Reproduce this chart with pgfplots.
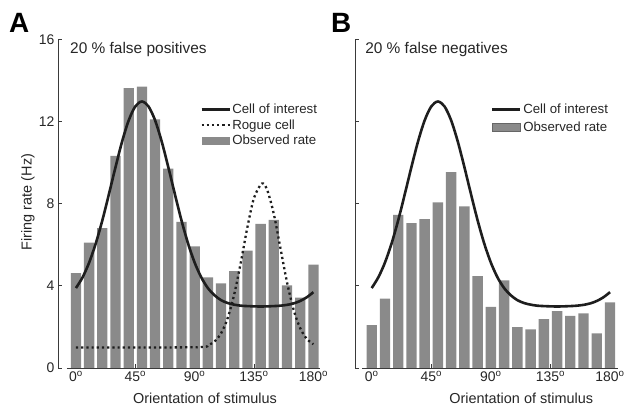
\documentclass[border=0pt]{standalone}
\usepackage{pgfplots}
\pgfplotsset{compat=1.18}
\usepackage{fontspec}
\setmainfont{Liberation Sans}
\definecolor{bargray}{HTML}{8A8A8A}
\definecolor{ink}{HTML}{1E1E1E}
\definecolor{axisgray}{HTML}{3A3A3A}

\pgfplotstableread{
deg rate
0 4.63
10 6.12
20 6.82
30 10.35
40 13.65
50 13.73
60 12.13
70 9.73
80 7.13
90 5.93
100 4.42
110 4.13
120 4.73
130 5.73
140 7.03
150 7.23
160 4.03
170 3.43
180 5.04
}\barsA

\pgfplotstableread{
deg rate
0 2.09
10 3.38
20 7.47
30 7.07
40 7.26
50 8.08
60 9.55
70 7.88
80 4.48
90 2.98
100 4.28
110 1.99
120 1.89
130 2.39
140 2.78
150 2.54
160 2.67
170 1.69
180 3.20
}\barsB

\pgfplotstableread{
deg rate
0 3.90
5 4.42
10 5.14
15 6.07
20 7.20
25 8.48
30 9.80
35 11.05
40 12.08
45 12.76
50 13.00
55 12.76
60 12.08
65 11.05
70 9.80
75 8.48
80 7.20
85 6.07
90 5.14
95 4.42
100 3.90
105 3.55
110 3.31
115 3.17
120 3.09
125 3.04
130 3.02
140 3.00
150 3.02
155 3.04
160 3.08
165 3.15
170 3.27
175 3.45
180 3.70
}\cell

\pgfplotstableread{
deg rate
0 1.00
50 1.00
95 1.02
100 1.11
105 1.29
110 1.69
115 2.43
120 3.60
125 5.16
130 6.88
135 8.30
141 9.00
145 8.68
150 7.51
155 5.85
160 4.18
165 2.84
170 1.94
175 1.42
180 1.16
}\rogue

\pgfplotsset{
  panel/.style={
    scale only axis, height=328bp,
    ymin=0, ymax=16,
    axis x line*=bottom, axis y line*=left,
    axis line style={draw=none},
    tick align=inside,
    ytick={0,4,8,12,16},
    xtick={0,45,90,135,180},
    xticklabels={0\textsuperscript{o},45\textsuperscript{o},90\textsuperscript{o},135\textsuperscript{o},180\textsuperscript{o}},
    major tick length=4bp,
    tick style={axisgray, line width=1bp},
    ticklabel style={font=\fontsize{14}{16}\selectfont, text=black!85},
    /pgf/number format/assume math mode=true,
    xlabel={Orientation of stimulus},
    label style={font=\fontsize{14.5}{17}\selectfont, text=black!85},
    clip=false,
    reverse legend,
    legend cell align=left,
    legend style={draw=none, fill=none, inner sep=0pt, row sep=1.5bp,
      font=\fontsize{13.3}{15}\selectfont, anchor=north west,
      nodes={inner sep=1.5bp, text=black!85}},
  },
  lineleg/.style={legend image code/.code={\draw[##1] (0bp,0bp) -- (28bp,0bp);}},
}

\begin{document}
\begin{tikzpicture}
\useasboundingbox (0,0) rectangle (633bp,409bp);

\begin{axis}[panel, at={(58bp,41bp)}, anchor=south west, width=262bp,
  xmin=-13.6, xmax=185,
  ylabel={Firing rate (Hz)},
  ylabel style={at={(axis description cs:-0.115,0.506)}, anchor=center},
  xlabel style={at={(axis description cs:0.561,-0.0915)}, anchor=center},
  legend style={at={(axis description cs:0.542,0.810)}},
]
\addplot[ybar, bar width=7.8, fill=bargray, draw=none,
  legend image code/.code={\fill[bargray] (0bp,-4bp) rectangle (28bp,4bp);}]
  table[x=deg, y=rate] {\barsA};
\addlegendentry{Observed rate}
\addplot[ink, line width=2.3bp, dash pattern=on 2.2bp off 3bp, smooth, lineleg]
  table[x=deg, y=rate] {\rogue};
\addlegendentry{Rogue cell}
\addplot[ink, line width=2.6bp, smooth, lineleg]
  table[x=deg, y=rate] {\cell};
\addlegendentry{Cell of interest}
\draw[axisgray, line width=1bp] (axis cs:-13.6,0) -- (axis cs:-13.6,16);
\draw[axisgray, line width=1bp] (axis cs:-6.8,0) -- (axis cs:185,0);
\node[anchor=base west, inner sep=0, font=\fontsize{15.5}{17}\selectfont, text=black!85]
  at (axis cs:-4.5,15.35) {20 \% false positives};
\end{axis}

\begin{axis}[panel, at={(355bp,41bp)}, anchor=south west, width=263bp,
  xmin=-12.6, xmax=186,
  yticklabels={},
  xlabel style={at={(axis description cs:0.632,-0.0915)}, anchor=center},
  legend style={at={(axis description cs:0.517,0.810)}, row sep=4bp},
]
\addplot[ybar, bar width=7.8, fill=bargray, draw=none,
  legend image code/.code={\filldraw[fill=bargray, draw=black!60, line width=0.6bp] (0bp,-4bp) rectangle (28bp,4bp);}]
  table[x=deg, y=rate] {\barsB};
\addlegendentry{Observed rate}
\addplot[ink, line width=2.6bp, smooth, lineleg]
  table[x=deg, y=rate] {\cell};
\addlegendentry{Cell of interest}
\draw[axisgray, line width=1bp] (axis cs:-12.6,0) -- (axis cs:-12.6,16);
\draw[axisgray, line width=1bp] (axis cs:-7.3,0) -- (axis cs:186,0);
\node[anchor=base west, inner sep=0, font=\fontsize{15.5}{17}\selectfont, text=black!85]
  at (axis cs:-5,15.35) {20 \% false negatives};
\end{axis}

\node[anchor=base west, inner sep=0, font=\fontsize{28}{30}\selectfont\bfseries] at (9bp,376bp) {A};
\node[anchor=base west, inner sep=0, font=\fontsize{28}{30}\selectfont\bfseries] at (331bp,376bp) {B};
\end{tikzpicture}
\end{document}
